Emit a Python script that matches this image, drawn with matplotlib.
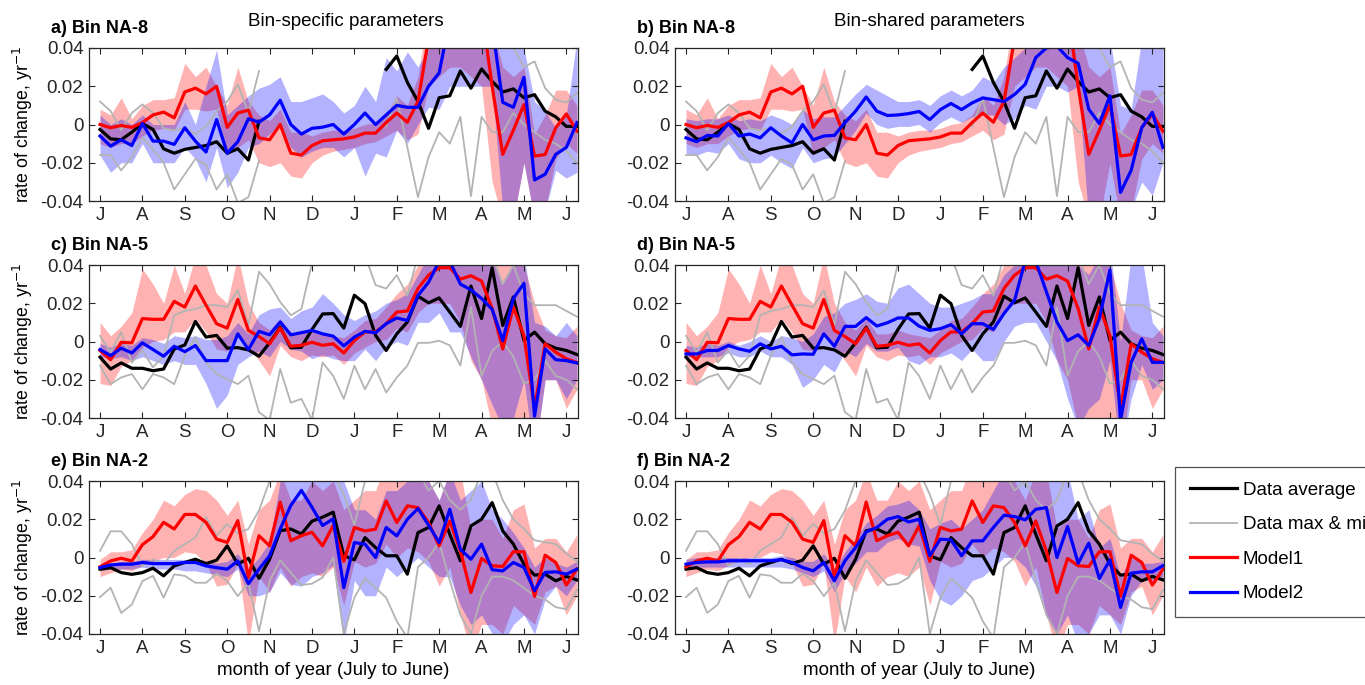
import matplotlib
matplotlib.use("Agg")
import matplotlib.pyplot as plt
import numpy as np

plt.rcParams["font.family"] = ["Liberation Sans", "DejaVu Sans"]

nan = np.nan

# weekly points, July to June
weeks = np.arange(46)
month_ticks = np.arange(0, 45, 4)
month_labels = ["J", "A", "S", "O", "N", "D", "J", "F", "M", "A", "M", "J"]

# ---- Bin NA-8 (observations + Model1) ----
avg8 = [-0.0026, -0.0075, -0.008, -0.004, 0.0005, -0.0026, -0.0127, -0.015, -0.013, -0.012,
        -0.011, -0.009, -0.015, -0.0127, -0.0186, 0.0017, nan, nan, nan, nan,
        nan, nan, nan, nan, nan, nan, nan, 0.0288, 0.0358, 0.022,
        0.012, -0.002, 0.014, 0.015, 0.028, 0.019, 0.029, 0.0225, 0.017, 0.0186,
        0.014, 0.0156, 0.007, 0.004, -0.001, -0.001]
max8 = [0.012, 0.007, -0.003, 0.006, 0.0105, 0.006, -0.002, -0.003, -0.002, -0.005,
        -0.001, 0.007, 0.012, 0.021, 0.006, 0.028, nan, nan, nan, nan,
        nan, nan, nan, nan, nan, nan, nan, 0.045, 0.045, 0.05,
        0.045, 0.05, 0.05, 0.05, 0.05, 0.045, 0.05, 0.045, 0.045, 0.04,
        0.03, 0.033, 0.019, 0.013, 0.0115, 0.0165]
min8 = [-0.016, -0.016, -0.024, -0.017, -0.007, -0.013, -0.02, -0.034, -0.026, -0.018,
        -0.021, -0.034, -0.026, -0.041, -0.038, -0.019, nan, nan, nan, nan,
        nan, nan, nan, nan, nan, nan, nan, -0.001, 0.0137, -0.012,
        -0.038, -0.017, -0.004, -0.010, 0.004, -0.0375, 0.004, -0.004, -0.004, 0.006,
        0.0, -0.004, -0.008, -0.01, -0.014, -0.02]
m1_8 = [0.0, -0.0017, -0.0005, -0.0015, 0.001, 0.005, 0.0065, 0.0035, 0.017, 0.019,
        0.016, 0.020, -0.0015, 0.006, 0.0075, -0.007, -0.008, 0.0, -0.015, -0.016,
        -0.011, -0.0085, -0.008, -0.0075, -0.0065, -0.0045, -0.0045, 0.001, 0.006, 0.0012,
        0.012, 0.045, 0.06, 0.065, 0.06, 0.055, 0.06, 0.02, -0.0156, -0.003,
        0.0104, -0.0165, -0.0157, -0.0017, 0.0055, -0.0035]
m1lo_8 = [-0.01, -0.012, -0.01, -0.01, -0.006, -0.003, -0.002, -0.003, 0.008, 0.008,
          0.007, 0.008, -0.016, -0.012, -0.008, -0.02, -0.022, -0.02, -0.027, -0.028,
          -0.02, -0.016, -0.014, -0.013, -0.012, -0.01, -0.009, -0.006, -0.003, -0.008,
          -0.005, 0.02, 0.025, 0.03, 0.03, 0.025, 0.02, -0.03, -0.05, -0.05,
          -0.02, -0.05, -0.045, -0.018, -0.01, -0.015]
m1hi_8 = [0.008, 0.005, 0.014, 0.003, 0.01, 0.013, 0.013, 0.014, 0.032, 0.025,
          0.03, 0.02, 0.01, 0.03, 0.012, 0.005, 0.002, 0.008, -0.004, -0.004,
          -0.006, -0.004, -0.003, -0.003, -0.002, 0.0, 0.001, 0.005, 0.015, 0.01,
          0.025, 0.06, 0.07, 0.07, 0.07, 0.07, 0.07, 0.05, 0.03, 0.025,
          0.03, -0.005, 0.005, 0.018, 0.018, 0.01]

# Model2, bin-specific fit (panel a)
m2_a = [-0.006, -0.0113, -0.008, -0.011, 0.0005, -0.0087, -0.0087, -0.0104, -0.0017, -0.0087,
        -0.0144, 0.0026, -0.015, -0.009, 0.003, 0.0012, 0.005, 0.0127, 0.0, -0.005,
        -0.002, -0.0014, 0.0, -0.005, 0.0, 0.006, 0.0, 0.005, 0.010, 0.009,
        0.009, 0.020, 0.027, 0.055, 0.06, 0.065, 0.06, 0.052, 0.0116, 0.009,
        0.0247, -0.029, -0.026, -0.0156, -0.012, 0.001]
m2lo_a = [-0.016, -0.025, -0.02, -0.02, -0.01, -0.02, -0.02, -0.02, -0.012, -0.018,
          -0.03, -0.012, -0.033, -0.025, -0.012, -0.01, -0.005, 0.0, -0.012, -0.017,
          -0.014, -0.012, -0.012, -0.017, -0.012, -0.027, -0.015, -0.017, -0.003, -0.01,
          0.0, 0.009, 0.008, 0.02, 0.02, 0.02, 0.02, 0.02, -0.045, -0.05,
          -0.02, -0.05, -0.045, -0.024, -0.028, -0.025]
m2hi_a = [0.005, 0.0, 0.003, 0.0, 0.005, 0.0, 0.0, 0.0, 0.012, 0.0,
          0.02, 0.039, 0.005, 0.01, 0.015, 0.019, 0.021, 0.025, 0.012, 0.012,
          0.014, 0.016, 0.012, 0.006, 0.01, 0.02, 0.012, 0.035, 0.028, 0.038,
          0.03, 0.04, 0.045, 0.06, 0.07, 0.07, 0.07, 0.07, 0.045, 0.04,
          0.04, 0.012, 0.007, -0.002, 0.005, 0.045]

# Model2, bin-shared fit (panel b)
m2_b = [-0.007, -0.009, -0.0057, -0.006, 0.0005, -0.006, -0.005, -0.007, -0.0017, -0.006,
        -0.0096, 0.0, -0.008, -0.006, -0.0057, 0.001, 0.007, 0.0144, 0.007, 0.0047,
        0.005, 0.0057, 0.0068, 0.0026, 0.0078, 0.011, 0.0078, 0.0113, 0.0139, 0.013,
        0.012, 0.0157, 0.021, 0.035, 0.040, 0.041, 0.035, 0.032, 0.008, 0.0005,
        0.015, -0.0355, -0.024, -0.0017, 0.0064, -0.012]
m2lo_b = [-0.015, -0.016, -0.014, -0.015, -0.01, -0.018, -0.02, -0.02, -0.016, -0.02,
          -0.023, -0.012, -0.02, -0.018, -0.017, -0.01, -0.003, 0.006, 0.0, -0.002,
          -0.001, -0.001, 0.0, -0.004, 0.001, 0.004, 0.001, 0.004, 0.005, 0.005,
          0.0, 0.003, 0.01, 0.008, 0.02, 0.02, 0.017, 0.02, -0.05, -0.05,
          -0.05, -0.05, -0.045, -0.03, -0.037, -0.02]
m2hi_b = [0.003, 0.002, 0.003, 0.003, 0.005, 0.002, 0.003, 0.002, 0.005, 0.003,
          0.0, 0.008, 0.003, 0.004, 0.004, 0.01, 0.016, 0.021, 0.018, 0.015,
          0.012, 0.012, 0.013, 0.01, 0.015, 0.018, 0.015, 0.018, 0.025, 0.022,
          0.03, 0.035, 0.04, 0.05, 0.06, 0.06, 0.055, 0.05, 0.04, 0.045,
          0.045, 0.01, 0.008, 0.045, 0.05, 0.05]

# ---- Bin NA-5 ----
avg5 = [-0.0082, -0.0144, -0.0112, -0.014, -0.014, -0.0153, -0.0144, -0.0039, -0.0018, 0.0105,
        0.0023, 0.0032, -0.0035, -0.0032, -0.0044, -0.0077, -0.0007, 0.0075, -0.0033, -0.003,
        0.0063, 0.0144, 0.0146, 0.007, 0.0242, 0.0198, 0.0032, -0.0047, 0.004, 0.0102,
        0.0237, 0.0202, 0.0228, 0.0154, 0.0079, 0.029, 0.012, 0.0386, 0.0084, 0.0233,
        0.0005, 0.0049, -0.0012, -0.0035, -0.0047, -0.0068]
max5 = [0.003, -0.0056, 0.005, -0.011, -0.0047, -0.0135, -0.0074, 0.0137, 0.016, 0.017,
        0.019, 0.019, 0.018, 0.0268, 0.0084, 0.0365, 0.030, 0.0207, 0.0137, 0.017,
        0.041, 0.045, 0.05, 0.05, 0.05, 0.045, 0.0295, 0.0277, 0.0347, 0.024,
        0.045, 0.045, 0.045, 0.045, 0.04, 0.045, 0.045, 0.045, 0.03, 0.04,
        0.025, 0.019, 0.019, 0.019, 0.016, 0.013]
min5 = [-0.0126, -0.0223, -0.0188, -0.017, -0.025, -0.017, -0.0188, -0.0223, -0.0074, 0.0023,
        -0.011, -0.017, -0.0196, -0.0223, -0.0179, -0.037, -0.041, -0.0144, -0.032, -0.030,
        -0.041, -0.011, -0.018, -0.03, -0.0126, -0.025, -0.0144, -0.0267, -0.0188, -0.0126,
        -0.0007, -0.0007, 0.0004, -0.002, -0.0126, 0.018, -0.018, -0.005, 0.0, -0.008,
        -0.022, -0.02, -0.01, -0.018, -0.02, -0.025]
m1_5 = [-0.0047, -0.0095, -0.0004, -0.0007, 0.012, 0.0116, 0.0116, 0.021, 0.018, 0.029,
        0.019, 0.0093, 0.007, 0.022, 0.0058, 0.0026, -0.0012, 0.007, -0.0025, -0.002,
        -0.0004, -0.002, -0.0012, -0.006, 0.0005, 0.005, 0.005, 0.0093, 0.0154, 0.016,
        0.0277, 0.0347, 0.0386, 0.0386, 0.0326, 0.0344, 0.0316, 0.0172, -0.0039, 0.018,
        0.003, -0.035, -0.0012, -0.0056, -0.009, -0.011]
m1lo_5 = [-0.022, -0.023, -0.013, -0.01, -0.003, 0.0, 0.001, 0.005, 0.005, 0.012,
          0.005, -0.004, -0.005, 0.005, -0.003, -0.01, -0.018, -0.002, -0.008, -0.01,
          -0.007, -0.008, -0.007, -0.012, -0.006, -0.003, 0.0, 0.001, 0.007, 0.005,
          0.015, 0.02, 0.02, 0.02, 0.01, -0.01, -0.02, -0.045, -0.05, -0.045,
          -0.045, -0.06, -0.02, -0.02, -0.035, -0.025]
m1hi_5 = [0.01, 0.003, 0.008, 0.015, 0.038, 0.03, 0.02, 0.04, 0.025, 0.045,
          0.04, 0.025, 0.02, 0.045, 0.02, 0.01, 0.006, 0.012, 0.004, 0.004,
          0.006, 0.004, 0.003, 0.002, 0.006, 0.011, 0.012, 0.018, 0.025, 0.03,
          0.04, 0.05, 0.055, 0.055, 0.05, 0.05, 0.045, 0.045, 0.045, 0.04,
          0.04, 0.02, 0.006, 0.003, 0.002, 0.008]

m2_c = [-0.0042, -0.0074, -0.0035, -0.006, -0.0007, -0.0042, -0.0077, -0.0025, -0.0053, -0.0021,
        -0.01, -0.01, -0.01, 0.004, -0.0042, 0.0053, 0.0035, 0.0102, 0.0035, 0.0046,
        0.0058, 0.004, 0.0028, -0.0023, 0.0023, 0.0053, 0.0046, 0.0093, 0.0123, 0.011,
        0.024, 0.031, 0.042, 0.042, 0.03, 0.027, 0.0225, 0.0168, 0.0005, 0.0225,
        0.0304, -0.039, -0.0039, -0.0095, -0.01, -0.0112]
m2lo_c = [-0.008, -0.009, -0.008, -0.01, -0.008, -0.01, -0.012, -0.01, -0.012, -0.012,
          -0.022, -0.035, -0.028, -0.012, -0.008, -0.005, -0.008, 0.0, -0.004, -0.005,
          -0.009, -0.007, -0.009, -0.01, -0.01, -0.004, -0.01, -0.003, 0.0, -0.002,
          0.01, 0.01, 0.015, 0.005, 0.005, -0.008, -0.02, -0.033, -0.045, -0.04,
          -0.02, -0.06, -0.02, -0.02, -0.03, -0.02]
m2hi_c = [-0.001, -0.003, -0.001, -0.002, 0.002, 0.001, -0.001, 0.003, 0.002, 0.003,
          0.001, 0.001, 0.003, 0.01, 0.004, 0.014, 0.017, 0.018, 0.012, 0.016,
          0.018, 0.025, 0.02, 0.014, 0.011, 0.014, 0.016, 0.02, 0.022, 0.025,
          0.035, 0.045, 0.05, 0.05, 0.045, 0.045, 0.04, 0.045, 0.03, 0.04,
          0.045, 0.01, 0.008, 0.003, 0.01, 0.003]

m2_d = [-0.0065, -0.0065, -0.0047, -0.0047, -0.0021, -0.0039, -0.0051, -0.0012, -0.0039, -0.0025,
        -0.007, -0.0065, -0.0067, 0.004, -0.0025, 0.0079, 0.0079, 0.0125, 0.0081, 0.0098,
        0.0123, 0.0123, 0.008, 0.0058, 0.0067, 0.0088, 0.004, 0.0093, 0.0093, 0.0063,
        0.0146, 0.0216, 0.042, 0.042, 0.026, 0.0102, 0.0005, 0.0035, -0.0021, 0.012,
        0.0374, -0.041, -0.0109, 0.0014, -0.0109, -0.0109]
m2lo_d = [-0.008, -0.008, -0.008, -0.008, -0.006, -0.008, -0.008, -0.005, -0.008, -0.008,
          -0.012, -0.024, -0.02, -0.012, -0.016, -0.005, -0.008, -0.001, -0.005, -0.005,
          -0.003, -0.01, -0.012, -0.008, -0.008, -0.006, -0.01, -0.004, -0.01, -0.01,
          0.0, 0.008, 0.01, 0.01, 0.0, -0.01, -0.03, -0.045, -0.035, -0.03,
          -0.01, -0.06, -0.03, -0.012, -0.025, -0.02]
m2hi_d = [-0.002, -0.003, -0.001, -0.002, 0.0, -0.002, 0.0, 0.003, 0.0, 0.003,
          0.002, 0.0, 0.004, 0.013, 0.015, 0.02, 0.022, 0.025, 0.021, 0.02,
          0.028, 0.03, 0.025, 0.02, 0.018, 0.018, 0.02, 0.022, 0.025, 0.025,
          0.035, 0.04, 0.05, 0.05, 0.045, 0.04, 0.04, 0.04, 0.035, 0.045,
          0.05, 0.0, 0.045, 0.045, 0.01, 0.003]

# ---- Bin NA-2 ----
avg2 = [-0.0061, -0.0053, -0.0079, -0.0088, -0.0079, -0.0056, -0.0096, -0.0044, -0.0026, -0.0009,
        -0.0032, -0.0014, 0.0061, -0.0035, -0.0004, -0.0109, -0.0009, 0.014, 0.0149, 0.0123,
        0.019, 0.0211, 0.0237, 0.0009, -0.0012, 0.0104, 0.0052, 0.0009, 0.0009, -0.0087,
        0.013, 0.0157, 0.027, 0.0122, -0.0017, 0.0165, 0.02, 0.0287, 0.0139, 0.007,
        -0.0035, -0.0092, -0.0087, -0.0122, -0.0099, -0.0117]
max2 = [0.0035, 0.0137, 0.0137, 0.007, -0.0044, -0.0009, -0.0035, 0.0035, 0.007, 0.0105,
        0.0211, 0.0114, 0.0175, 0.0126, 0.0149, 0.0246, 0.04, 0.045, 0.045, 0.05,
        0.045, 0.04, 0.045, 0.033, 0.017, 0.04, 0.045, 0.05, 0.045, 0.04,
        0.045, 0.035, 0.04, 0.03, 0.025, 0.03, 0.045, 0.045, 0.03, 0.02,
        0.015, 0.009, 0.008, 0.007, 0.002, -0.002]
min2 = [-0.0207, -0.0158, -0.029, -0.0246, -0.0123, -0.0096, -0.021, -0.0088, -0.0096, -0.0132,
        -0.0132, -0.0084, -0.0123, -0.0202, -0.0132, -0.0386, -0.0123, -0.0014, -0.0079, -0.0144,
        -0.0137, -0.0105, 0.0, -0.04, -0.021, -0.0109, -0.0158, -0.021, -0.0333, -0.042,
        -0.005, 0.0, 0.008, -0.012, -0.03, -0.04, -0.02, -0.01, -0.01, -0.012,
        -0.016, -0.02, -0.022, -0.026, -0.027, -0.017]
m1_2 = [-0.0049, -0.0018, -0.0004, -0.0018, 0.0067, 0.0109, 0.0184, 0.0149, 0.0225, 0.0225,
        0.0184, 0.0096, 0.0079, 0.0193, -0.0105, 0.0114, 0.0061, 0.029, 0.0088, 0.0114,
        0.0132, 0.0061, 0.0167, -0.002, 0.0157, 0.0139, 0.0148, 0.0296, 0.0183, 0.027,
        0.0261, 0.0183, 0.0061, 0.0191, 0.0035, -0.0183, -0.0005, -0.0043, -0.0047, 0.003,
        0.003, -0.0203, 0.0012, -0.0026, -0.0144, -0.0061]
m1lo_2 = [-0.01, -0.008, -0.006, -0.007, -0.004, -0.002, 0.0, 0.0, 0.003, 0.002,
          -0.003, -0.015, -0.014, -0.003, -0.045, -0.01, -0.018, -0.005, -0.015, -0.01,
          -0.008, -0.01, -0.005, -0.025, -0.002, -0.005, -0.003, 0.007, 0.0, 0.005,
          0.003, -0.002, -0.015, -0.005, -0.03, -0.05, -0.035, -0.035, -0.04, -0.025,
          -0.03, -0.035, -0.018, -0.015, -0.03, -0.02]
m1hi_2 = [-0.001, 0.003, 0.003, 0.004, 0.013, 0.02, 0.03, 0.027, 0.033, 0.036,
          0.035, 0.03, 0.022, 0.03, 0.007, 0.025, 0.03, 0.045, 0.03, 0.03,
          0.04, 0.035, 0.04, 0.025, 0.03, 0.035, 0.035, 0.05, 0.04, 0.045,
          0.045, 0.04, 0.03, 0.045, 0.045, 0.015, 0.02, 0.02, 0.01, 0.025,
          0.028, 0.005, 0.01, 0.01, 0.003, 0.012]

m2_e = [-0.0053, -0.0039, -0.0035, -0.0035, -0.0026, -0.0032, -0.0032, -0.0032, -0.0026, -0.0026,
        -0.0044, -0.0053, -0.0061, -0.0018, -0.0137, -0.0061, 0.0009, 0.0149, 0.0272, 0.0351,
        0.0263, 0.0167, 0.0202, -0.0158, 0.0078, 0.007, 0.0, 0.0157, 0.0113, 0.02,
        0.0256, 0.0169, 0.0078, 0.0252, 0.0043, -0.0009, 0.007, -0.0064, -0.007, -0.0026,
        -0.0052, -0.0174, -0.0078, -0.0075, -0.0087, -0.0061]
m2lo_e = [-0.007, -0.006, -0.006, -0.006, -0.005, -0.006, -0.006, -0.006, -0.007, -0.007,
          -0.008, -0.009, -0.01, -0.006, -0.02, -0.02, -0.018, -0.008, -0.014, -0.015,
          -0.01, -0.008, -0.004, -0.045, -0.012, -0.02, -0.02, -0.005, -0.01, -0.005,
          0.0, -0.005, -0.01, -0.01, -0.025, -0.035, -0.03, -0.04, -0.045, -0.035,
          -0.03, -0.04, -0.022, -0.015, -0.02, -0.012]
m2hi_e = [-0.004, -0.003, -0.002, -0.002, -0.001, -0.001, -0.001, -0.001, -0.001, -0.001,
          -0.002, -0.003, -0.002, 0.002, -0.006, 0.0, 0.008, 0.04, 0.045, 0.05,
          0.045, 0.04, 0.045, 0.04, 0.025, 0.025, 0.02, 0.035, 0.035, 0.04,
          0.045, 0.04, 0.03, 0.045, 0.03, 0.035, 0.04, 0.025, 0.02, 0.013,
          0.005, -0.005, 0.0, -0.003, -0.005, -0.002]

m2_f = [-0.0035, -0.0026, -0.0023, -0.0023, -0.0017, -0.0017, -0.0017, -0.0017, -0.0017, -0.0012,
        -0.0026, -0.0052, -0.007, -0.0026, -0.0122, -0.0017, 0.0052, 0.0134, 0.0157, 0.02,
        0.0214, 0.0186, 0.02, 0.0009, 0.0096, 0.0092, 0.0009, 0.0087, 0.0087, 0.0157,
        0.0221, 0.0214, 0.0197, 0.0252, 0.0261, 0.0, 0.0162, -0.003, 0.0075, -0.011,
        -0.0012, -0.0261, -0.0082, -0.0075, -0.0075, -0.0043]
m2lo_f = [-0.006, -0.005, -0.005, -0.005, -0.005, -0.005, -0.005, -0.005, -0.005, -0.005,
          -0.006, -0.008, -0.01, -0.007, -0.018, -0.008, -0.003, 0.003, 0.003, 0.008,
          0.01, 0.007, 0.006, -0.012, -0.022, -0.025, -0.02, -0.012, -0.01, -0.005,
          0.0, 0.0, -0.005, -0.015, -0.03, -0.04, -0.03, -0.045, -0.04, -0.03,
          -0.03, -0.04, -0.02, -0.012, -0.012, -0.01]
m2hi_f = [-0.001, 0.0, 0.0, 0.0, 0.0, 0.0, 0.0, 0.0, 0.0, 0.001,
          0.0, -0.002, -0.002, 0.002, -0.006, 0.003, 0.01, 0.018, 0.022, 0.027,
          0.028, 0.03, 0.025, 0.015, 0.018, 0.02, 0.015, 0.02, 0.025, 0.035,
          0.045, 0.04, 0.04, 0.045, 0.045, 0.04, 0.045, 0.02, 0.025, 0.005,
          0.01, -0.01, 0.0, -0.003, -0.003, -0.002]

AXIS_COLOR = "#262626"
FS = 13.5


def draw_panel(ax, obs, m1, m2, title):
    avg, dmax, dmin = (np.array(v, dtype=float) for v in obs)
    m1, m1lo, m1hi = (np.array(v, dtype=float) for v in m1)
    m2, m2lo, m2hi = (np.array(v, dtype=float) for v in m2)

    ax.fill_between(weeks, m1lo, m1hi, color=(1, 0, 0), alpha=0.3, linewidth=0)
    ax.fill_between(weeks, m2lo, m2hi, color=(0, 0, 1), alpha=0.3, linewidth=0)
    ax.plot(weeks, dmax, color="#b3b3b3", lw=1.3, label="Data max & min")
    ax.plot(weeks, dmin, color="#b3b3b3", lw=1.3)
    ax.plot(weeks, avg, color="black", lw=2.3, label="Data average")
    ax.plot(weeks, m1, color="red", lw=2.3, label="Model1")
    ax.plot(weeks, m2, color="blue", lw=2.3, label="Model2")

    ax.set_xlim(-1.04, 45.1)
    ax.set_ylim(-0.04, 0.04)
    ax.set_xticks(month_ticks)
    ax.set_xticklabels(month_labels)
    ax.set_yticks([-0.04, -0.02, 0, 0.02, 0.04])
    ax.set_yticklabels(["-0.04", "-0.02", "0", "0.02", "0.04"])
    ax.tick_params(direction="in", top=True, right=True, length=4, width=0.8,
                   labelsize=FS, colors=AXIS_COLOR, labelcolor="#262626", pad=4)
    for s in ax.spines.values():
        s.set_color(AXIS_COLOR)
        s.set_linewidth(0.9)
    ax.text(-0.077, 1.13, title, transform=ax.transAxes, fontsize=13,
            fontweight="bold", ha="left", va="center")


fig = plt.figure(figsize=(13.65, 6.85), dpi=100)

W, H = 1365, 685
col_left = [89, 675]
col_width = 489
row_top = [48, 265, 481]
row_height = 153

panels = [
    ("a) Bin NA-8", (avg8, max8, min8), (m1_8, m1lo_8, m1hi_8), (m2_a, m2lo_a, m2hi_a)),
    ("b) Bin NA-8", (avg8, max8, min8), (m1_8, m1lo_8, m1hi_8), (m2_b, m2lo_b, m2hi_b)),
    ("c) Bin NA-5", (avg5, max5, min5), (m1_5, m1lo_5, m1hi_5), (m2_c, m2lo_c, m2hi_c)),
    ("d) Bin NA-5", (avg5, max5, min5), (m1_5, m1lo_5, m1hi_5), (m2_d, m2lo_d, m2hi_d)),
    ("e) Bin NA-2", (avg2, max2, min2), (m1_2, m1lo_2, m1hi_2), (m2_e, m2lo_e, m2hi_e)),
    ("f) Bin NA-2", (avg2, max2, min2), (m1_2, m1lo_2, m1hi_2), (m2_f, m2lo_f, m2hi_f)),
]

axes = []
for k, (title, obs, m1, m2) in enumerate(panels):
    row, col = divmod(k, 2)
    rect = [col_left[col] / W, 1 - (row_top[row] + row_height) / H,
            col_width / W, row_height / H]
    ax = fig.add_axes(rect)
    draw_panel(ax, obs, m1, m2, title)
    if col == 0:
        ax.set_ylabel("rate of change, yr$^{-1}$", fontsize=12.8, labelpad=4)
    if row == 2:
        ax.set_xlabel("month of year (July to June)", fontsize=FS, labelpad=4)
    axes.append(ax)

axes[0].text(0.525, 1.175, "Bin-specific parameters", transform=axes[0].transAxes,
             fontsize=FS, ha="center", va="center")
axes[1].text(0.52, 1.175, "Bin-shared parameters", transform=axes[1].transAxes,
             fontsize=FS, ha="center", va="center")

# legend box runs past the right edge of the figure
handles, labels = axes[4].get_legend_handles_labels()
order = [labels.index(n) for n in ["Data average", "Data max & min", "Model1", "Model2"]]
leg = fig.legend([handles[i] for i in order], [labels[i] for i in order],
                 loc="upper left", bbox_to_anchor=(1175 / W, 1 - 467 / H),
                 fontsize=FS, frameon=True, fancybox=False, borderpad=0.78,
                 labelspacing=0.93, handlelength=2.55, handletextpad=0.28,
                 borderaxespad=0)
leg.get_frame().set_edgecolor(AXIS_COLOR)
leg.get_frame().set_linewidth(0.9)

fig.savefig("out.png", dpi=100)
